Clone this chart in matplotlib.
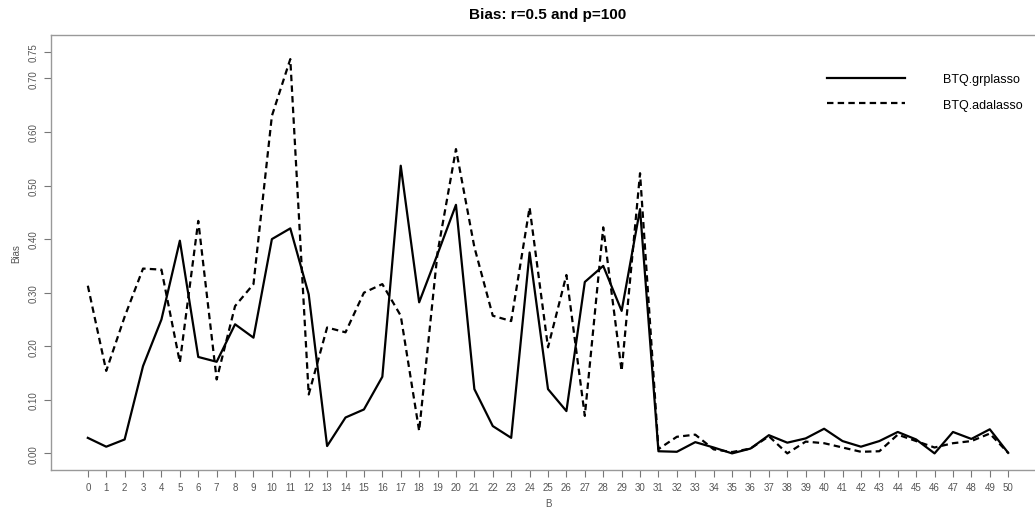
import matplotlib
matplotlib.use("Agg")
import matplotlib.pyplot as plt

B = list(range(51))

grplasso = [0.029, 0.0125, 0.026, 0.163, 0.25, 0.397, 0.18, 0.171, 0.241, 0.216,
            0.40, 0.42, 0.297, 0.0137, 0.067, 0.082, 0.143, 0.537, 0.282, 0.372,
            0.464, 0.12, 0.051, 0.029, 0.375, 0.12, 0.079, 0.32, 0.35, 0.266,
            0.456, 0.004, 0.003, 0.021, 0.011, 0.0, 0.009, 0.034, 0.02, 0.028,
            0.046, 0.023, 0.0125, 0.023, 0.04, 0.026, 0.0, 0.04, 0.027, 0.045,
            0.001]

adalasso = [0.313, 0.154, 0.255, 0.345, 0.343, 0.17, 0.434, 0.138, 0.275, 0.316,
            0.63, 0.736, 0.11, 0.235, 0.226, 0.30, 0.316, 0.257, 0.042, 0.375,
            0.568, 0.385, 0.257, 0.247, 0.459, 0.198, 0.333, 0.07, 0.422, 0.154,
            0.523, 0.008, 0.031, 0.035, 0.0075, 0.0025, 0.009, 0.032, 0.0, 0.022,
            0.019, 0.011, 0.003, 0.004, 0.035, 0.023, 0.011, 0.019, 0.023, 0.037,
            0.001]

yticks = [0.0, 0.1, 0.2, 0.3, 0.4, 0.5, 0.6, 0.7, 0.75]
ytick_labels = ["0.00", "0.10", "0.20", "0.30", "0.40", "0.50", "0.60", "0.70", "0.75"]

plt.rcParams['font.family'] = ['Liberation Sans', 'DejaVu Sans']

W, H = 1035, 510
fig = plt.figure(figsize=(W / 100, H / 100), dpi=100)
# plot region: left 51px, right 1045px (off the figure), top 36px, bottom 471px
ax = fig.add_axes([51 / W, (H - 471) / H, (1045 - 51) / W, (471 - 36) / H])

ax.plot(B, grplasso, color="black", lw=1.6, label="BTQ.grplasso")
ax.plot(B, adalasso, color="black", lw=1.6, dashes=(2.9, 1.9), label="BTQ.adalasso")

ax.set_xlim(-2, 52)
ax.set_ylim(-0.031, 0.781)
ax.set_xticks(B)
ax.set_xticklabels([str(b) for b in B])
ax.set_yticks(yticks)
ax.set_yticklabels(ytick_labels, rotation=90, va="center")

grey = "#777777"
for s in ax.spines.values():
    s.set_color("#999999")
    s.set_linewidth(1.0)
ax.tick_params(axis="both", colors=grey, labelcolor="#555555", labelsize=7,
               length=5, width=0.8, direction="out")
ax.tick_params(axis="x", pad=4)
ax.tick_params(axis="y", pad=4)

ax.set_xlabel("B", fontsize=7, color="#555555", labelpad=4)
ax.set_ylabel("Bias", fontsize=7, color="#555555", labelpad=5)
fig.text(548 / W, 1 - 15 / H, "Bias: r=0.5 and p=100", ha="center", va="center",
         fontsize=11, fontweight="bold")

leg = ax.legend(loc="upper left", bbox_to_anchor=((827 - 51) / 994, (471 - 74) / 435),
                frameon=False, fontsize=9, handlelength=6.2, handletextpad=3.1,
                labelspacing=1.1, borderpad=0, borderaxespad=0)

fig.savefig("out.png", dpi=100)
